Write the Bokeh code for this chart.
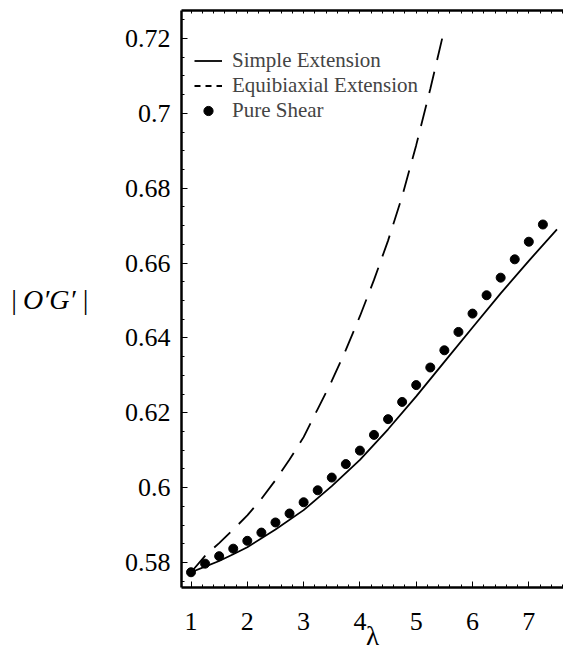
from bokeh.plotting import figure
from bokeh.models import FixedTicker, LinearAxis, Range1d, Legend, LegendItem, Div
from bokeh.layouts import row
from bokeh.embed import file_html
from bokeh.resources import INLINE

# Simple Extension (solid)
lam_simple = [1.0, 1.25, 1.5, 1.75, 2.0, 2.5, 3.0, 3.5, 4.0, 4.5, 5.0, 5.5, 6.0, 6.5, 7.0, 7.5]
og_simple = [0.5774, 0.5789, 0.5804, 0.5822, 0.5841, 0.5888, 0.5940, 0.6004, 0.6074,
             0.6156, 0.6244, 0.6336, 0.6428, 0.6519, 0.6606, 0.6690]

# Equibiaxial Extension (dashed)
lam_equi = [1.0, 1.25, 1.5, 1.75, 2.0, 2.25, 2.5, 2.75, 3.0, 3.25, 3.5, 3.75, 4.0,
            4.25, 4.5, 4.75, 5.0, 5.25, 5.5]
og_equi = [0.5774, 0.5818, 0.5852, 0.5888, 0.5926, 0.5970, 0.6020, 0.6075, 0.6135,
           0.6210, 0.6285, 0.6368, 0.6458, 0.6555, 0.6660, 0.6778, 0.6915, 0.7065, 0.7225]

# Pure Shear (dots)
lam_shear = [1.0, 1.25, 1.5, 1.75, 2.0, 2.25, 2.5, 2.75, 3.0, 3.25, 3.5, 3.75, 4.0,
             4.25, 4.5, 4.75, 5.0, 5.25, 5.5, 5.75, 6.0, 6.25, 6.5, 6.75, 7.0, 7.25]
og_shear = [0.5774, 0.5797, 0.5817, 0.5837, 0.5858, 0.5880, 0.5907, 0.5931, 0.5961,
            0.5993, 0.6027, 0.6063, 0.6099, 0.6141, 0.6183, 0.6229, 0.6274, 0.6321,
            0.6367, 0.6416, 0.6465, 0.6514, 0.6561, 0.6610, 0.6657, 0.6703]

x_ticks = [1, 2, 3, 4, 5, 6, 7]
x_minor = [round(0.8 + 0.2 * k, 2) for k in range(36)]
y_ticks = [0.58, 0.60, 0.62, 0.64, 0.66, 0.68, 0.70, 0.72]
y_tick_labels = ["0.58", "0.6", "0.62", "0.64", "0.66", "0.68", "0.7", "0.72"]
y_minor = [round(0.57 + 0.005 * k, 3) for k in range(33)]

series_names = ["Simple Extension", "Equibiaxial Extension", "Pure Shear"]
x_label = "λ"
y_label = "|\u2009O′G′\u2009|"

SERIF = "Liberation Serif"

has_orient = "axis_label_orientation" in LinearAxis.properties()

W = 563 if has_orient else 473
p = figure(width=W, height=653, output_backend="svg", toolbar_location=None,
           x_range=Range1d(0.831, 7.616), y_range=Range1d(0.57333, 0.72747),
           min_border_left=181 if has_orient else 91, min_border_right=0,
           min_border_top=10, min_border_bottom=65)
p.xgrid.visible = False
p.ygrid.visible = False
p.outline_line_color = None
p.background_fill_color = "white"
p.border_fill_color = "white"

top = LinearAxis(ticker=FixedTicker(ticks=[], minor_ticks=x_minor))
p.add_layout(top, "above")

bx = p.below[0]
ly = p.left[0]
bx.ticker = FixedTicker(ticks=x_ticks, minor_ticks=x_minor)
ly.ticker = FixedTicker(ticks=y_ticks, minor_ticks=y_minor)
ly.major_label_overrides = {t: s for t, s in zip(y_ticks, y_tick_labels)}

for ax in [bx, ly, top]:
    ax.axis_line_width = 2.5
    ax.axis_line_color = "black"
    ax.major_tick_in = 6
    ax.major_tick_out = 0
    ax.minor_tick_in = 3
    ax.minor_tick_out = 0
    ax.major_tick_line_width = 1
    ax.minor_tick_line_width = 1
    ax.major_label_text_font = SERIF
    ax.major_label_text_color = "black"
    ax.axis_label_text_font = SERIF
    ax.axis_label_text_color = "black"

bx.major_label_text_font_size = "26px"
bx.major_label_standoff = 25
bx.axis_label = x_label
bx.axis_label_text_font_size = "27px"
bx.axis_label_text_font_style = "normal"
bx.axis_label_standoff = -12

ly.major_label_text_font_size = "26px"
ly.major_label_standoff = 11
if has_orient:
    ly.axis_label = y_label
    ly.axis_label_orientation = "horizontal"
    ly.axis_label_text_font_size = "28px"
    ly.axis_label_text_font_style = "italic"
    ly.axis_label_standoff = 33

r_s = p.line(lam_simple, og_simple, line_color="black", line_width=1.8)
r_e = p.line(lam_equi, og_equi, line_color="black", line_width=1.8, line_dash="22 12")
r_p = p.scatter(lam_shear, og_shear, size=9, fill_color="black", line_color="black")
# legend-only sample with the short dashes of the reference key (kept out of view)
r_e_leg = p.line([-5, -4], [0.6, 0.6], line_color="black", line_width=1.8, line_dash="6 5")

legend = Legend(items=[LegendItem(label=series_names[0], renderers=[r_s]),
                       LegendItem(label=series_names[1], renderers=[r_e_leg]),
                       LegendItem(label=series_names[2], renderers=[r_p])],
                location=(13, 464))
legend.border_line_color = None
legend.background_fill_alpha = 0
legend.padding = 0
legend.margin = 0
legend.spacing = 0
legend.glyph_width = 28
legend.glyph_height = 23
legend.label_height = 23
legend.label_standoff = 10
legend.label_text_font = SERIF
legend.label_text_font_size = "21px"
p.add_layout(legend)

if has_orient:
    root = p
else:
    lab = Div(text=y_label, width=90, height=653,
              styles={"font-family": SERIF, "font-size": "27px", "font-style": "italic",
                      "padding-top": "290px", "color": "black"})
    root = row(lab, p)

open("out.html", "w").write(file_html(root, INLINE))
